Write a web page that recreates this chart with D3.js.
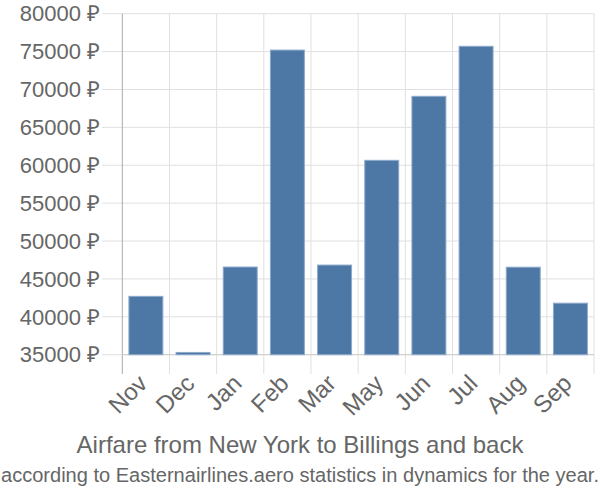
<!DOCTYPE html>
<html><head><meta charset="utf-8">
<script src="https://cdn.jsdelivr.net/npm/d3@7"></script>
<style>body{margin:0;background:#fff}svg{display:block}</style>
</head><body>
<svg id="c" width="600" height="500"></svg>
<script>
const months = ["Nov","Dec","Jan","Feb","Mar","May","Jun","Jul","Aug","Sep"];
const prices = [42700,35300,46570,75200,46830,60650,69100,75700,46550,41800];
const yTicks = [35000,40000,45000,50000,55000,60000,65000,70000,75000,80000];
const title = "Airfare from New York to Billings and back";
const subtitle = "according to Easternairlines.aero statistics in dynamics for the year.";

const svg = d3.select("#c");
const L = 122.3, R = 594, T = 13.7, B = 354.7;
const x = d3.scaleBand().domain(months).range([L, R]).paddingInner(0.28).paddingOuter(0.14);
const y = d3.scaleLinear().domain([35000, 80000]).range([B, T]);
const font = "'Liberation Sans', Arial, sans-serif";
const grid = "#e0e0e0", txt = "#666";

// horizontal grid
svg.append("g").selectAll("line").data(yTicks).join("line")
  .attr("x1", 102).attr("x2", R).attr("y1", d => y(d)).attr("y2", d => y(d))
  .attr("stroke", grid).attr("stroke-width", 1);
// vertical grid
const xb = d3.scaleBand().domain(months).range([L, R]);
const vx = months.map(m => xb(m)).concat([R]);
svg.append("g").selectAll("line").data(vx).join("line")
  .attr("x1", d => d).attr("x2", d => d).attr("y1", T).attr("y2", 374)
  .attr("stroke", (d, i) => i === 0 ? "#aaa" : grid).attr("stroke-width", 1);
// x axis line
svg.append("line").attr("x1", L).attr("x2", R).attr("y1", B).attr("y2", B)
  .attr("stroke", "#ccc").attr("stroke-width", 1);

// bars
svg.append("g").selectAll("rect").data(months).join("rect")
  .attr("x", d => x(d)).attr("width", x.bandwidth())
  .attr("y", (d, i) => y(prices[i])).attr("height", (d, i) => B - y(prices[i]))
  .attr("fill", "#4d77a5").attr("stroke", "#8eaacb").attr("stroke-width", 1);

// y labels
svg.append("g").selectAll("text").data(yTicks).join("text")
  .attr("x", 100).attr("y", d => y(d)).attr("dy", "0.35em")
  .attr("text-anchor", "end").attr("font-family", font).attr("font-size", 22)
  .attr("fill", txt).text(d => d + " ₽");

// x labels
svg.append("g").selectAll("text").data(months).join("text")
  .attr("transform", d => `translate(${xb(d) + xb.bandwidth()/2 - 9},${373}) rotate(-45)`)
  .attr("text-anchor", "end").attr("dy", "0.7em")
  .attr("font-family", font).attr("font-size", 24).attr("fill", txt).text(d => d);

svg.append("text").attr("x", 300).attr("y", 453).attr("text-anchor", "middle")
  .attr("font-family", font).attr("font-size", 24).attr("fill", txt).text(title);
svg.append("text").attr("x", 300).attr("y", 482).attr("text-anchor", "middle")
  .attr("font-family", font).attr("font-size", 20).attr("fill", txt)
  .attr("textLength", 598).attr("lengthAdjust", "spacingAndGlyphs").text(subtitle);
</script>
</body></html>
